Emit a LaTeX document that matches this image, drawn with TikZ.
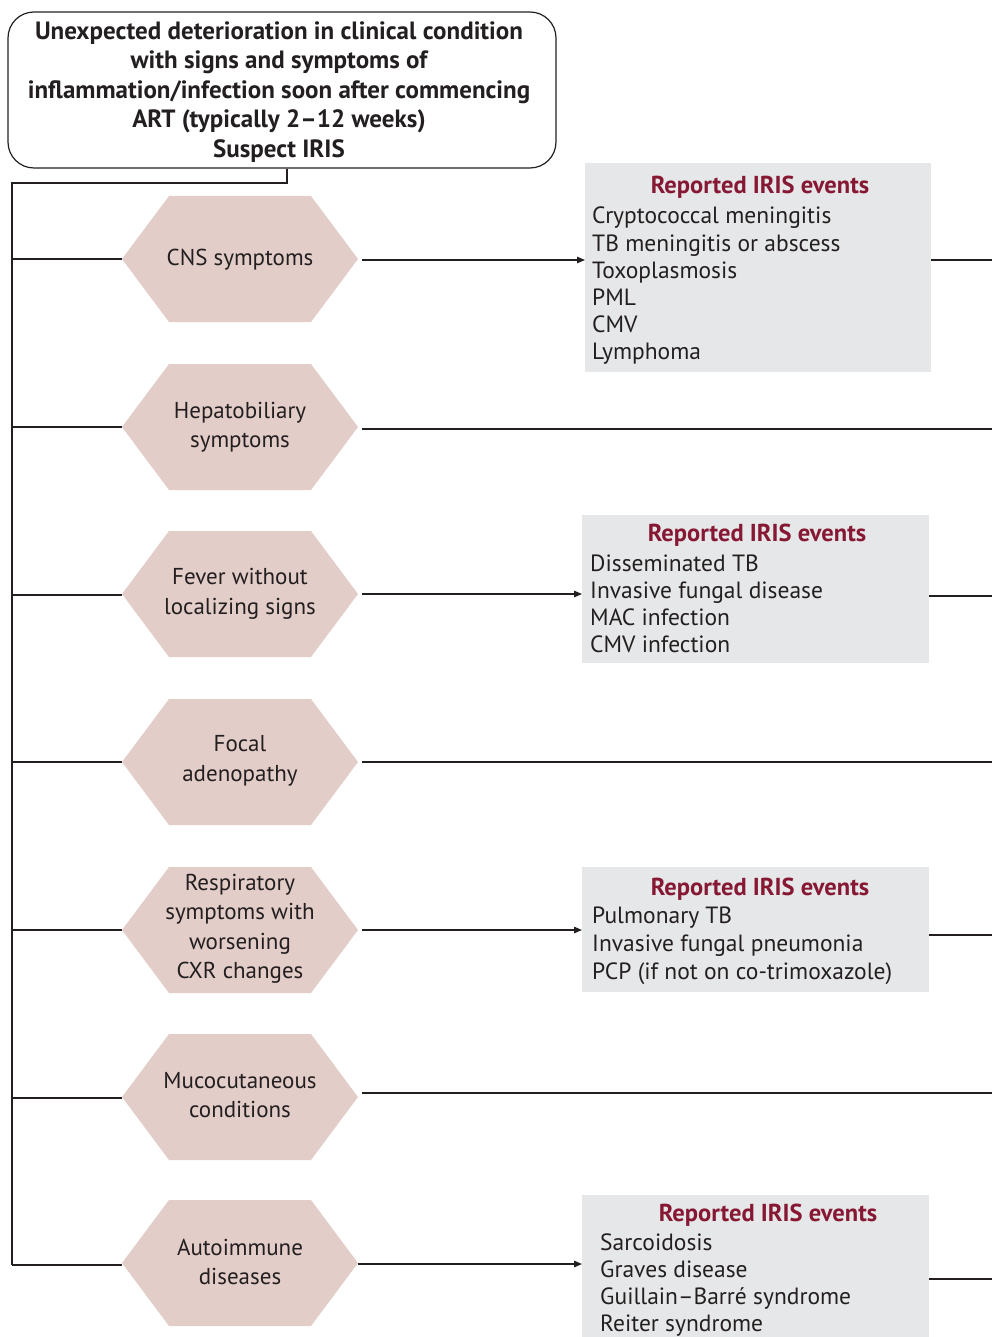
\documentclass[tikz,border=0pt]{standalone}
\usepackage{fontspec}
\setmainfont{PT Sans}
\usetikzlibrary{arrows.meta}
\definecolor{hexcol}{RGB}{227,205,200}
\definecolor{evcol}{RGB}{230,231,232}
\definecolor{evtitle}{RGB}{134,24,52}
\definecolor{ink}{RGB}{35,31,32}

% hexagon centred on x=240 at height #1
\newcommand\hexagonat[1]{%
  \fill[hexshape] (122,#1) -- (169,#1-63) -- (311,#1-63) -- (358,#1)
    -- (311,#1+63) -- (169,#1+63) -- cycle;}
% list of events: name, x, first baseline, line step, items
\newcommand\eventlist[5]{%
  \foreach \t [count=\i] in {#5}
    \node[evline] (#1-l\i) at (#2,{#3+#4*(\i-1)}) {\t};}

\begin{document}
\begin{tikzpicture}[x=1pt,y=-1pt,
  conn/.style={draw=ink,line width=1.3pt},
  arr/.style={conn,-{Triangle[length=8pt,width=6.5pt]}},
  hexshape/.style={fill=hexcol,draw=none},
  hexlabel/.style={align=center,text=ink,inner sep=0pt,
    font=\fontsize{23}{29.5}\selectfont},
  topbox/.style={draw=ink,line width=1.2pt,rounded corners=26pt,
    minimum width=548pt,minimum height=156pt,inner sep=0pt},
  toptext/.style={align=center,text=ink,inner sep=0pt,
    font=\fontsize{25}{29.5}\selectfont\bfseries},
  evbox/.style={fill=evcol,draw=none,inner sep=0pt,anchor=north west},
  evhead/.style={text=evtitle,inner sep=0pt,anchor=base,
    font=\fontsize{24.5}{26}\selectfont\bfseries},
  evline/.style={text=ink,inner sep=0pt,anchor=base west,
    font=\fontsize{23.5}{27}\selectfont}]

\useasboundingbox (0,0) rectangle (992,1337);

% top condition box
\node[topbox] (top) at (282,90) {};
\node[toptext] (toptxt) at (279,92) {Unexpected deterioration in clinical condition\\
  with signs and symptoms of\\
  inflammation/infection soon after commencing\\
  ART (typically 2--12 weeks)\\
  Suspect IRIS};

% hexagons
\foreach \y in {259,427,594,762,930,1097,1263} \hexagonat{\y};
\node[hexlabel] (h1) at (240,260) {CNS symptoms};
\node[hexlabel] (h2) at (240,427) {Hepatobiliary\\symptoms};
\node[hexlabel] (h3) at (240,594) {Fever without\\localizing signs};
\node[hexlabel] (h4) at (240,761) {Focal\\adenopathy};
\node[hexlabel] (h5) at (240,929) {Respiratory\\symptoms with\\worsening\\CXR changes};
\node[hexlabel] (h6) at (240,1095) {Mucocutaneous\\conditions};
\node[hexlabel] (h7) at (240,1262) {Autoimmune\\diseases};

% hexagon tips
\coordinate (h1w) at (122,259);  \coordinate (h1e) at (362,260);
\coordinate (h2w) at (122,427);  \coordinate (h2e) at (362,429);
\coordinate (h3w) at (122,595);  \coordinate (h3e) at (362,594);
\coordinate (h4w) at (122,762);  \coordinate (h4e) at (362,762);
\coordinate (h5w) at (122,930);  \coordinate (h5e) at (362,930);
\coordinate (h6w) at (122,1098); \coordinate (h6e) at (362,1093);
\coordinate (h7w) at (122,1265); \coordinate (h7e) at (358,1264);

% event boxes
\node[evbox,minimum width=346pt,minimum height=209pt] (ev1) at (585,163) {};
\node[evbox,minimum width=347pt,minimum height=148pt] (ev2) at (582,515) {};
\node[evbox,minimum width=347pt,minimum height=125pt] (ev3) at (582,867) {};
\node[evbox,minimum width=347pt,minimum height=142pt] (ev4) at (582,1195) {};

\node[evhead] (ev1-t) at (760,194) {Reported IRIS events};
\eventlist{ev1}{592}{224}{27.1}{Cryptococcal meningitis,TB meningitis or abscess,Toxoplasmosis,PML,CMV,Lymphoma}
\node[evhead] (ev2-t) at (757,541) {Reported IRIS events};
\eventlist{ev2}{590}{571}{27.3}{Disseminated TB,Invasive fungal disease,MAC infection,CMV infection}
\node[evhead] (ev3-t) at (760,895) {Reported IRIS events};
\eventlist{ev3}{592}{923}{28}{Pulmonary TB,Invasive fungal pneumonia,PCP (if not on co-trimoxazole)}
\node[evhead] (ev4-t) at (768,1221) {Reported IRIS events};
\eventlist{ev4}{600}{1250}{27}{Sarcoidosis,Graves disease,Guillain--Barré syndrome,Reiter syndrome}

% right-hand free ends
\coordinate (r1) at (992,260);
\coordinate (r2) at (992,429);
\coordinate (r3) at (992,596);
\coordinate (r4) at (992,762);
\coordinate (r5) at (992,935);
\coordinate (r6) at (992,1093);
\coordinate (r7) at (992,1279);

% bus from the top box
\coordinate (drop) at (287,183);
\coordinate (busTop) at (12,183);
\coordinate (busBot) at (12,1265);
\draw[conn] (top.south -| drop) -- (drop) -- (busTop) -- (busBot);
\foreach \k in {1,...,7} \draw[conn] (busTop |- h\k w) -- (h\k w);

% connectors to the right
\draw[arr] (h1e) -- (h1e -| ev1.west);
\draw[arr] (h3e) -- (h3e -| ev2.west);
\draw[arr] (h5e) -- (h5e -| ev3.west);
\draw[arr] (h7e) -- (h7e -| ev4.west);
\draw[conn] (h2e) -- (r2);
\draw[conn] (h4e) -- (r4);
\draw[conn] (h6e) -- (r6);
\draw[conn] (r1 -| ev1.east) -- (r1);
\draw[conn] (r3 -| ev2.east) -- (r3);
\draw[conn] (r5 -| ev3.east) -- (r5);
\draw[conn] (r7 -| ev4.east) -- (r7);
\end{tikzpicture}
\end{document}
